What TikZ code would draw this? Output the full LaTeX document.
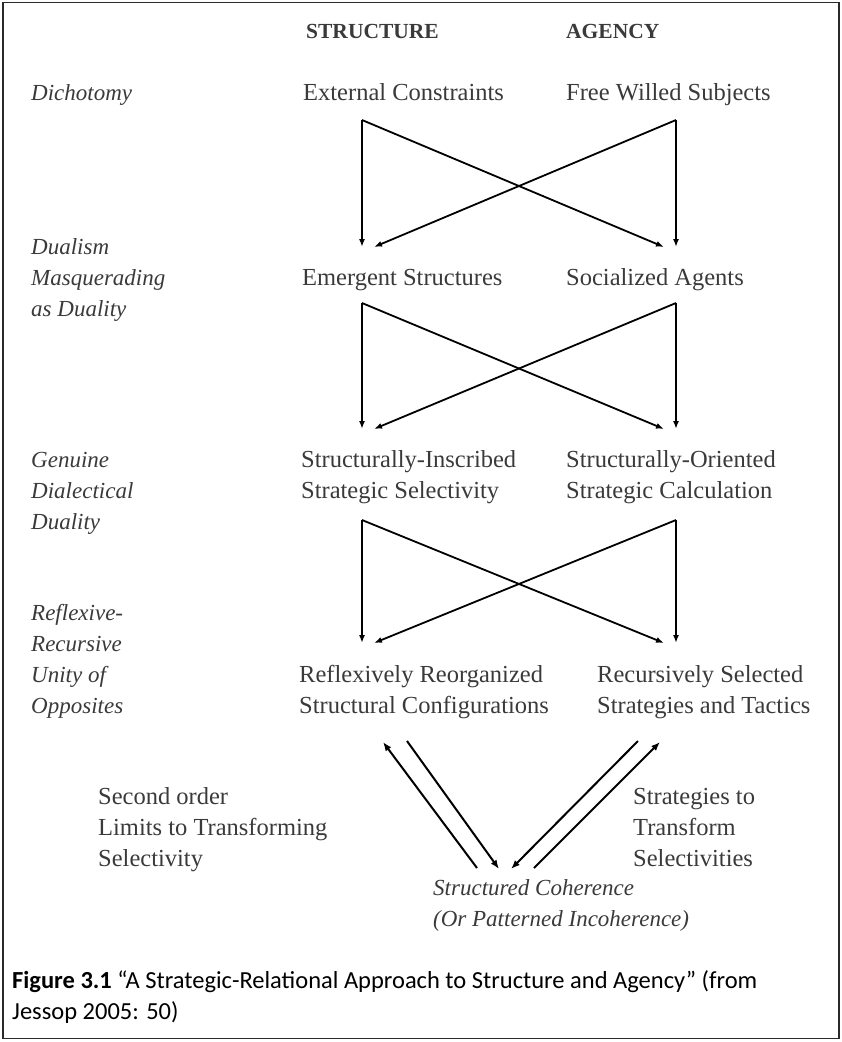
\documentclass[tikz,border=0pt]{standalone}
\usepackage{fontspec}
\setmainfont{Liberation Serif}
\newfontfamily\capfont{Carlito}
\usetikzlibrary{arrows.meta}
\definecolor{ink}{HTML}{3A3A3A}
\definecolor{framecol}{HTML}{2A2A2A}
\tikzset{
  lbl/.style={anchor=base west, inner sep=0pt, text=ink, font=\fontsize{24.5}{31}\selectfont},
  side/.style={anchor=base west, inner sep=0pt, text=ink, font=\fontsize{23}{31}\selectfont\itshape},
  colhead/.style={anchor=base west, inner sep=0pt, text=ink, font=\fontsize{21.5}{26}\selectfont\bfseries},
  captxt/.style={anchor=base west, inner sep=0pt, text=black, font=\capfont\fontsize{24.5}{31}\selectfont},
  arr/.style={-{Latex[length=8pt,width=6pt]}, line width=1.8pt, black},
  arrb/.style={-{Latex[length=9pt,width=7pt]}, line width=2pt, black},
}
\begin{document}
\begin{tikzpicture}[x=1pt,y=-1pt]
  \useasboundingbox (0,0) rectangle (842,1042);
  % outer frame
  \draw[framecol, line width=1.5pt] (3,2.5) rectangle (839,1038.5);

  % column headings
  \node[colhead] (hs) at (306,38) {STRUCTURE};
  \node[colhead] (ha) at (566,38) {AGENCY};

  % level 1
  \node[side] (l1) at (31,100) {Dichotomy};
  \node[lbl] (s1) at (303,100) {External Constraints};
  \node[lbl] (a1) at (566,100) {Free Willed Subjects};

  % level 2
  \node[side] (l2a) at (31,254) {Dualism};
  \node[side] (l2b) at (31,285) {Masquerading};
  \node[side] (l2c) at (31,316) {as Duality};
  \node[lbl] (s2) at (302,285) {Emergent Structures};
  \node[lbl] (a2) at (566,285) {Socialized Agents};

  % level 3
  \node[side] (l3a) at (31,467) {Genuine};
  \node[side] (l3b) at (31,498) {Dialectical};
  \node[side] (l3c) at (31,529) {Duality};
  \node[lbl] (s3a) at (301,467) {Structurally-Inscribed};
  \node[lbl] (s3b) at (301,498) {Strategic Selectivity};
  \node[lbl] (a3a) at (566,467) {Structurally-Oriented};
  \node[lbl] (a3b) at (566,498) {Strategic Calculation};

  % level 4
  \node[side] (l4a) at (31,620) {Reflexive-};
  \node[side] (l4b) at (31,651) {Recursive};
  \node[side] (l4c) at (31,682) {Unity of};
  \node[side] (l4d) at (31,713) {Opposites};
  \node[lbl] (s4a) at (299,682) {Reflexively Reorganized};
  \node[lbl] (s4b) at (299,713) {Structural Configurations};
  \node[lbl] (a4a) at (597,682) {Recursively Selected};
  \node[lbl] (a4b) at (597,713) {Strategies and Tactics};

  % feedback labels
  \node[lbl] (fl1) at (98,804) {Second order};
  \node[lbl] (fl2) at (98,835) {Limits to Transforming};
  \node[lbl] (fl3) at (98,866) {Selectivity};
  \node[lbl] (fr1) at (633,804) {Strategies to};
  \node[lbl] (fr2) at (633,835) {Transform};
  \node[lbl] (fr3) at (633,866) {Selectivities};

  % outcome
  \node[side] (oc1) at (433,895) {Structured Coherence};
  \node[side] (oc2) at (433,926) {(Or Patterned Incoherence)};

  % caption
  \node[captxt] (cap1) at (12,988) {\bfseries Figure 3.1\mdseries{} “A Strategic-Relational Approach to Structure and Agency” (from};
  \node[captxt] (cap2) at (12,1019) {Jessop 2005: 50)};

  % crossing arrow sets: (top y, tip y)
  \foreach \n/\ya/\yb in {1/120/247, 2/303/429, 3/520/643} {
    \coordinate (tl\n) at (362,\ya);
    \coordinate (tr\n) at (676,\ya);
    \coordinate (bl\n) at (362,\yb);
    \coordinate (br\n) at (676,\yb);
    \coordinate (cl\n) at (374,\yb);
    \coordinate (cr\n) at (664,\yb);
    \draw[arr] (tl\n) -- (bl\n);
    \draw[arr] (tr\n) -- (br\n);
    \draw[arr] (tl\n) -- (cr\n);
    \draw[arr] (tr\n) -- (cl\n);
  }

  % feedback arrows between level 4 and the outcome
  \coordinate (lupS) at (477,868);
  \coordinate (lupE) at (383,742);
  \coordinate (ldnS) at (407,741);
  \coordinate (ldnE) at (499,869);
  \coordinate (rdnS) at (638,741);
  \coordinate (rdnE) at (511,869);
  \coordinate (rupS) at (534,868);
  \coordinate (rupE) at (660,742);
  \draw[arrb] (lupS) -- (lupE);
  \draw[arrb] (ldnS) -- (ldnE);
  \draw[arrb] (rdnS) -- (rdnE);
  \draw[arrb] (rupS) -- (rupE);
\end{tikzpicture}
\end{document}
